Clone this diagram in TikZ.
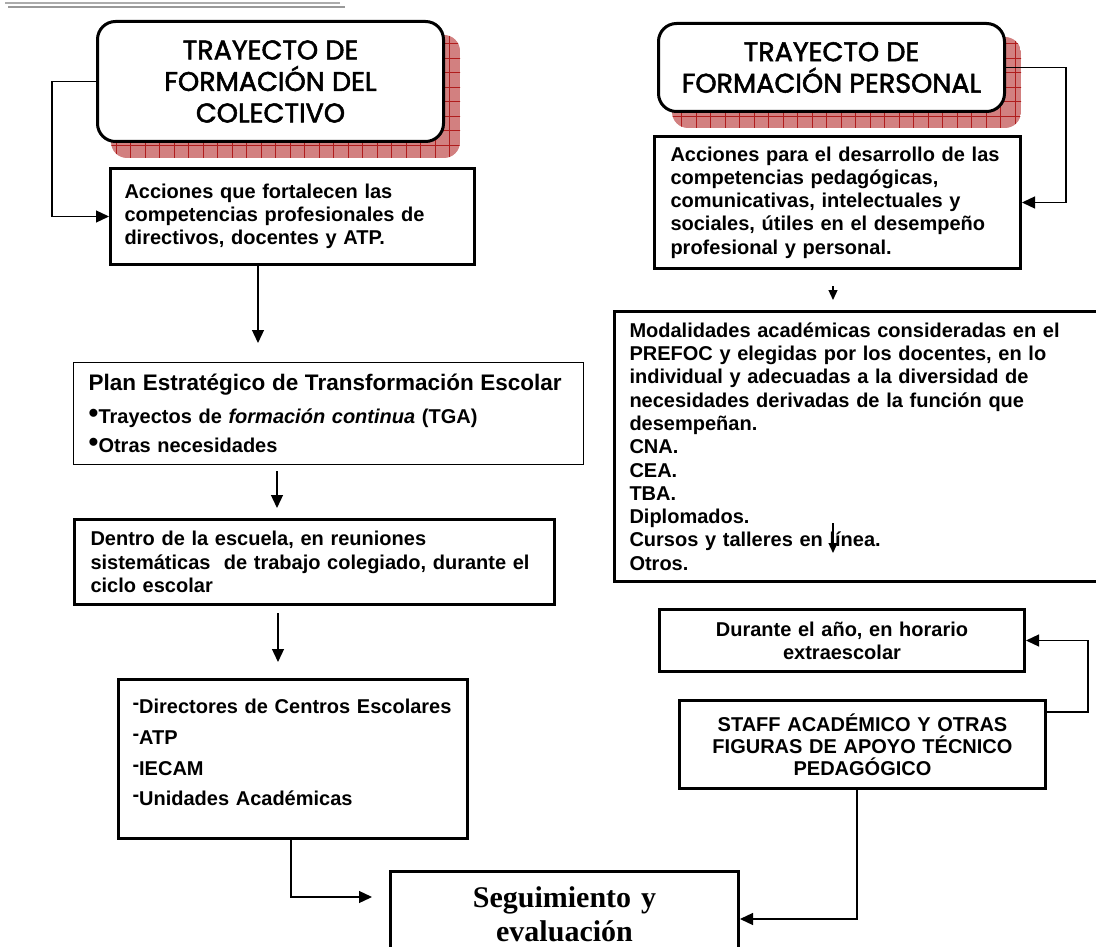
\documentclass[tikz,border=0pt]{standalone}
\usepackage{fontspec}
\setmainfont{Liberation Sans}
\newfontfamily\titlefont[FakeBold=2]{Poppins}
\newfontfamily\timesfont{Liberation Serif}
\usetikzlibrary{arrows.meta,calc,backgrounds}

\definecolor{shadowred}{RGB}{210,128,128}
\definecolor{gridred}{RGB}{176,28,28}

% raised bullet and raised dash used in the lists
\newcommand\pbul{\raisebox{1.5pt}{\fontsize{28}{28}\selectfont •}}
\newcommand\pdash{\raisebox{0.2em}{-}}

\begin{document}
\begin{tikzpicture}[x=1pt,y=-1pt,
  every node/.style={font=\bfseries\fontsize{20}{23.3}\selectfont},
  box/.style={draw, line width=3pt, fill=white, rectangle, anchor=north west,
    align=left, inner ysep=2pt},
  thinbox/.style={box, line width=1.4pt},
  header/.style={draw, line width=3pt, fill=white, rounded corners=18pt,
    anchor=north west, align=center, inner sep=0pt,
    font=\titlefont\fontsize{27}{31.5}\selectfont},
  conn/.style={line width=1.3pt, -{Triangle[length=13pt,width=12pt]}},
  smallconn/.style={line width=1.3pt, -{Triangle[length=10pt,width=9pt]}},
  hatch/.style={draw=gridred, line width=0.7pt}
]
\useasboundingbox (0,0) rectangle (1096,947);

% double rule at the top left
\draw[gray!65, line width=2pt] (5,3.5) -- (340,3.5);
\draw[gray!80, line width=2pt] (8,7.5) -- (345,7.5);

% ---- headers ----
\node[header, minimum width=346, minimum height=120] (h1) at (96,20)
  {TRAYECTO DE\\FORMACIÓN DEL\\COLECTIVO};
\node[header, minimum width=346, minimum height=88] (h2) at (657,22)
  {TRAYECTO DE\\FORMACIÓN PERSONAL};

% ---- left column ----
\node[box, inner xsep=14pt, text width=336pt, minimum height=96] (b2) at (109,167)
  {Acciones que fortalecen las\\competencias profesionales de\\directivos, docentes y ATP.};
\node[thinbox, inner xsep=15pt, text width=480pt, minimum height=102,
  font=\bfseries\fontsize{20}{29}\selectfont] (b3) at (73,362)
  {{\fontsize{22.5}{27}\selectfont Plan Estratégico de Transformación Escolar}\\[4pt]
   \pbul Trayectos de \textit{formación continua} (TGA)\\
   \pbul Otras necesidades};
\node[box, inner xsep=16pt, text width=448pt, minimum height=85,
  font=\bfseries\fontsize{20}{23.5}\selectfont] (b4) at (73,518)
  {Dentro de la escuela, en reuniones\\sistemáticas \ de trabajo colegiado, durante el\\ciclo escolar};
\node[box, inner xsep=14pt, text width=321pt, minimum height=159,
  font=\bfseries\fontsize{20}{30.7}\selectfont] (b5) at (117,678)
  {\hbox{\pdash Directores de Centros Escolares}\\\pdash ATP\\\pdash IECAM\\\pdash Unidades Académicas\\[-18pt]\mbox{}};

% ---- right column ----
\node[box, inner xsep=16pt, text width=334pt, minimum height=132] (b6) at (653,135)
  {Acciones para el desarrollo de las\\competencias pedagógicas,\\comunicativas, intelectuales y\\sociales, útiles en el desempeño\\profesional y personal.};
\node[box, inner xsep=15pt, text width=480pt, minimum height=270] (b7) at (613,310)
  {Modalidades académicas consideradas en el\\PREFOC y elegidas por los docentes, en lo\\individual y adecuadas a la diversidad de\\necesidades derivadas de la función que\\desempeñan.\\CNA.\\CEA.\\TBA.\\Diplomados.\\Cursos y talleres en línea.\\Otros.};
\node[box, align=center, inner xsep=15pt, text width=335pt, minimum height=62] (b8) at (658,608)
  {Durante el año, en horario\\extraescolar};
\node[box, align=center, inner xsep=15pt, text width=336pt, minimum height=88,
  font=\bfseries\fontsize{20}{22}\selectfont] (b9) at (678,699)
  {STAFF ACADÉMICO Y OTRAS\\FIGURAS DE APOYO TÉCNICO\\PEDAGÓGICO};

% ---- bottom ----
\node[box, align=center, inner xsep=15pt, text width=318pt, minimum height=86,
  font=\timesfont\bfseries\fontsize{30}{34}\selectfont] (seg) at (389,870)
  {Seguimiento y\\evaluación};

% ---- hatched shadows behind the headers ----
\begin{scope}[on background layer]
  \fill[white] (0,0) rectangle (1096,947);
  \foreach \h in {h1,h2}{
    \coordinate (sa) at ($(\h.north west)+(15,15)$);
    \coordinate (sb) at ($(\h.south east)+(15,15)$);
    \begin{scope}
      \clip[rounded corners=16pt] (sa) rectangle (sb);
      \fill[shadowred] (sa) rectangle (sb);
      \draw[hatch, step=14.5pt] ($(sa)+(-20,-20)$) grid ($(sb)+(20,20)$);
    \end{scope}
  }
\end{scope}

% ---- connectors ----
\coordinate (t23) at (258,343);
\coordinate (t34) at (277,508);
\coordinate (t45) at (278,662);
\coordinate (k5)  at (291,897);
\coordinate (t5s) at (372,897);
\coordinate (t67) at (833,300);
\coordinate (s7)  at (833,523);
\coordinate (t7)  at (833,553);
\coordinate (k9)  at (857,919);

\draw[conn] (h1.west) -- ++(-44,0) |- (b2.west);
\draw[conn] (b2.south -| t23) -- (t23);
\draw[conn] ($(b3.south -| t34)+(0,6)$) -- (t34);
\draw[conn] ($(b4.south -| t45)+(0,7)$) -- (t45);
\draw[conn] (b5.south -| k5) |- (t5s);

\draw[conn] (h2.east) -- ++(60,0) |- (b6.east);
\draw[smallconn] ($(b6.south -| t67)+(0,16)$) -- (t67);
\draw[smallconn] (s7) -- (t7);
\draw[conn] ([yshift=-13pt]b9.north east) -- ++(41,0) |- (b8.east);
\draw[conn] (b9.south -| k9) |- (seg.east |- k9);
\end{tikzpicture}
\end{document}
